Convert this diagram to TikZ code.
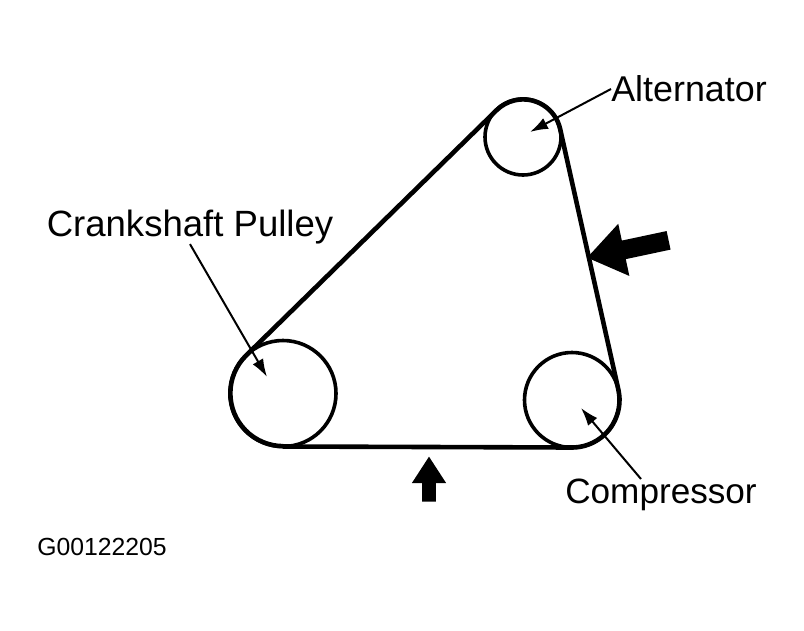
\documentclass[tikz,border=0pt]{standalone}
\usepackage{fontspec}
\setmainfont{Liberation Sans}
\usepackage{tikz}
\usetikzlibrary{arrows.meta,shapes.arrows}
\tikzset{
	pulley/.style={circle,draw,line width=0.09cm,inner sep=0pt,outer sep=0pt},
	belt/.style={line width=0.115cm,line join=round},
	lbl/.style={inner sep=0pt,font=\fontsize{25.5}{28}\selectfont},
	lead/.style={line width=0.05cm,-{Latex[length=0.45cm,width=0.3cm]}},
	fatarrow/.style={single arrow,fill=black,inner xsep=0pt,outer sep=0pt}
}
\begin{document}
\begin{tikzpicture}
		\useasboundingbox (0,0) rectangle (20.1,15.75);
		\node[pulley,minimum size=1.9cm] (A) at (13.075,12.325) {};
		\node[pulley,minimum size=2.65cm] (C) at (7.075,5.9125) {};
		\node[pulley,minimum size=2.375cm] (P) at (14.3,5.75) {};
		%
		\draw[belt] (C.-90) -- (P.-90)
		arc[start angle=-90,end angle=12.6,radius=1.1875cm] -- (A.12.6)
		arc[start angle=12.6,end angle=134.5,radius=0.95cm] -- (C.134.5)
		arc[start angle=134.5,end angle=270,radius=1.325cm];
		%
		\node[lbl] (altlabel) at (17.225,13.525) {Alternator};
		\node[lbl,font=\fontsize{26}{28}\selectfont] (cranklabel) at (4.75,10.08) {Crankshaft Pulley};
		\node[lbl,font=\fontsize{25}{28}\selectfont] (complabel) at (16.525,3.37) {Compressor};
		\node[inner sep=0pt,font=\fontsize{17.6}{20}\selectfont] (code) at (2.55,2.075) {G00122205};
		%
		\coordinate (alttip) at (13.25,12.45);
		\coordinate (cranktip) at (6.675,6.325);
		\coordinate (comptip) at (14.525,5.55);
		\path[lead]
		(altlabel.west) edge (alttip)
		(cranklabel.south) edge (cranktip)
		(complabel.141) edge (comptip);
		%
		\node[fatarrow,rotate=192,inner ysep=0.23cm,minimum height=2.08cm,single arrow head extend=0.43cm,single arrow tip angle=71] (bigarrow) at (15.86,9.56) {};
		\node[fatarrow,rotate=90,inner ysep=0.1625cm,minimum height=1.125cm,single arrow head extend=0.26cm,single arrow tip angle=66] (smallarrow) at (10.725,3.64) {};
		\end{tikzpicture}
\end{document}
